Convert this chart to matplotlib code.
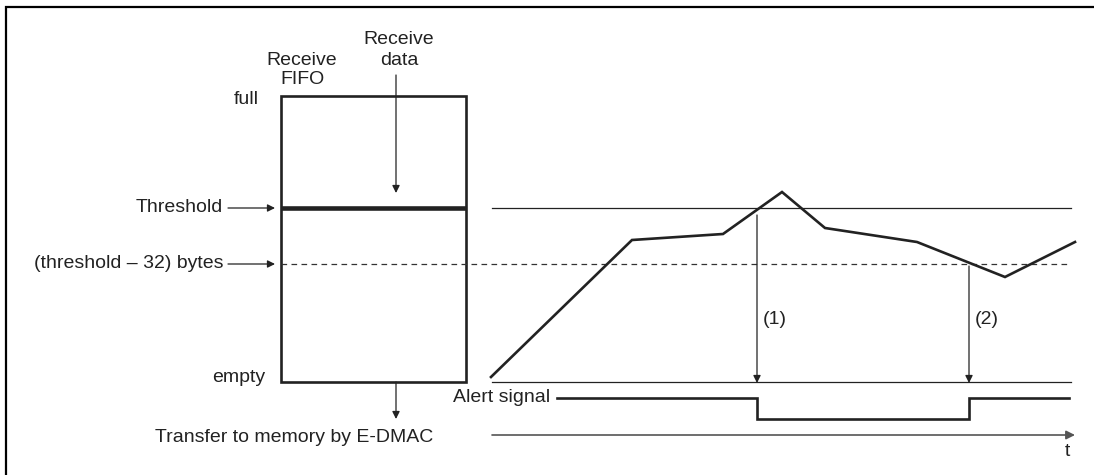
import matplotlib
matplotlib.use('Agg')
import matplotlib.pyplot as plt
from matplotlib.patches import Rectangle

plt.rcParams['font.family'] = ['Liberation Sans', 'DejaVu Sans']

# FIFO levels (pixel rows of the drawing)
level_full = 96
level_threshold = 208
level_threshold_32 = 264
level_empty = 382

# fill level of the FIFO over time
fill_t = [491, 632, 723, 782, 825, 917, 1005, 1075]
fill_level = [377, 240, 234, 192, 228, 242, 277, 242]

# alert signal waveform
alert_t = [557, 757, 757, 969, 969, 1069]
alert_level = [398, 398, 419, 419, 398, 398]

# points where the alert changes: (1) threshold crossed, (2) below threshold-32
event_t = [757, 969]
event_start = [215, 266]
event_labels = ['(1)', '(2)']

INK = '#222222'
FS = 14

fig = plt.figure(figsize=(10.94, 4.75), dpi=100)
ax = fig.add_axes([0, 0, 1, 1])
ax.set_xlim(0, 1094)
ax.set_ylim(475, 0)
ax.axis('off')

# outer frame (left and top edges visible)
ax.plot([6, 6, 1094], [475, 7, 7], color='black', lw=1.6, solid_joinstyle='miter')

# FIFO box
box_l, box_r = 281, 466
ax.add_patch(Rectangle((box_l, level_full), box_r - box_l, level_empty - level_full,
                       fill=False, ec=INK, lw=1.9))
ax.plot([box_l, box_r], [level_threshold] * 2, color=INK, lw=3.3, solid_capstyle='butt')
ax.plot([box_l, 1071], [level_threshold_32] * 2, color='#333333', lw=0.9,
        linestyle=(0, (4.5, 3.5)))

# thin reference lines of the timing chart
ax.plot([492, 1071], [level_threshold] * 2, color=INK, lw=0.9)
ax.plot([492, 1071], [level_empty] * 2, color=INK, lw=0.9)

# fill curve and alert signal
ax.plot(fill_t, fill_level, color=INK, lw=1.9, solid_joinstyle='miter')
ax.plot(alert_t, alert_level, color=INK, lw=1.9, solid_joinstyle='miter')

arrow = dict(arrowstyle='-|>', color=INK, lw=0.9, mutation_scale=11, shrinkA=0, shrinkB=0)

# event arrows
for x0, y0, lab in zip(event_t, event_start, event_labels):
    ax.annotate('', xy=(x0, level_empty + 1), xytext=(x0, y0), arrowprops=arrow)
    ax.text(x0 + 6, 320, lab, fontsize=FS, color=INK, ha='left', va='center')

# time axis
ax.annotate('', xy=(1075, 435), xytext=(492, 435),
            arrowprops=dict(arrowstyle='-|>', color='#555555', lw=1.2,
                            mutation_scale=13, shrinkA=0, shrinkB=0))
ax.text(1067, 451, 't', fontsize=FS, color=INK, ha='center', va='center')

# FIFO arrows
ax.annotate('', xy=(396, 193), xytext=(396, 75), arrowprops=arrow)
ax.annotate('', xy=(396, 419), xytext=(396, level_empty), arrowprops=arrow)
ax.annotate('', xy=(275, level_threshold), xytext=(228, level_threshold), arrowprops=arrow)
ax.annotate('', xy=(275, level_threshold_32), xytext=(228, level_threshold_32), arrowprops=arrow)

# labels
ax.text(302, 70, 'Receive\nFIFO', fontsize=FS, color=INK, ha='center', va='center',
        linespacing=1.2)
ax.text(399, 50, 'Receive\ndata', fontsize=FS, color=INK, ha='center', va='center',
        linespacing=1.3)
ax.text(259, 100, 'full', fontsize=FS, color=INK, ha='right', va='center')
ax.text(223, level_threshold, 'Threshold', fontsize=FS, color=INK, ha='right', va='center')
ax.text(224, level_threshold_32, '(threshold \u2013 32) bytes', fontsize=FS, color=INK,
        ha='right', va='center')
ax.text(265, 377, 'empty', fontsize=FS, color=INK, ha='right', va='center')
ax.text(294, 437, 'Transfer to memory by E-DMAC', fontsize=FS, color=INK,
        ha='center', va='center')
ax.text(550, 398, 'Alert signal', fontsize=FS, color=INK, ha='right', va='center')

fig.savefig('out.png', dpi=100)
